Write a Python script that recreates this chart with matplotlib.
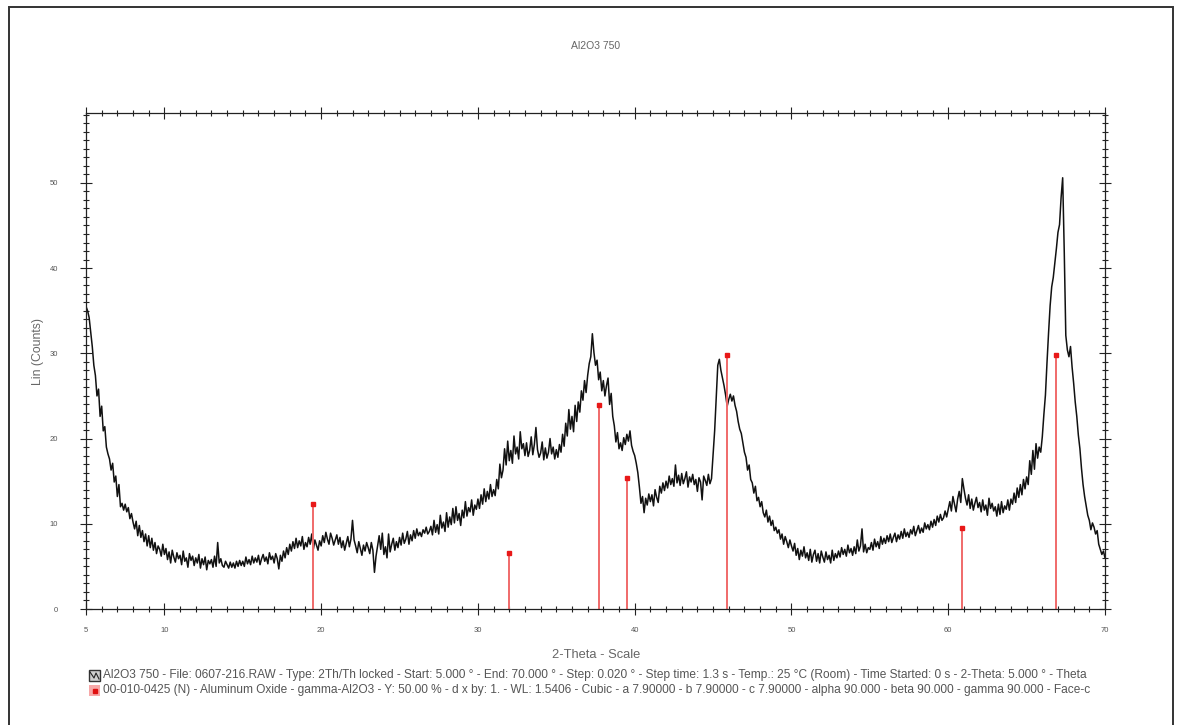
import numpy as np
import matplotlib
matplotlib.use("Agg")
import matplotlib.pyplot as plt
from matplotlib.patches import Rectangle
from matplotlib.lines import Line2D

# ---------------- data ----------------
TITLE = "Al2O3 750"
X_LABEL = "2-Theta - Scale"
Y_LABEL = "Lin (Counts)"
X_TICKS = [5, 10, 20, 30, 40, 50, 60, 70]
Y_TICKS = [0, 10, 20, 30, 40, 50]

THETA_START = 5.0
THETA_STEP = 0.1
counts = [
    35.5, 35.0, 34.2, 32.5, 30.8, 28.6, 27.4, 25.0, 25.8, 22.6,
    23.8, 20.9, 21.4, 19.0, 18.2, 17.6, 16.3, 17.1, 14.9, 15.6,
    13.2, 14.6, 12.0, 12.4, 11.6, 12.3, 11.4, 11.9, 10.6, 11.2,
    10.2, 9.4, 10.3, 8.6, 9.8, 8.4, 9.2, 7.9, 8.8, 7.4,
    8.6, 7.2, 8.3, 6.9, 7.8, 6.5, 7.4, 7.0, 6.2, 7.6,
    6.4, 7.1, 5.8, 6.7, 5.4, 6.9, 6.1, 5.5, 6.6, 5.9,
    6.3, 5.2, 6.8, 5.6, 6.0, 4.9, 6.5, 5.7, 6.2, 5.1,
    6.0, 5.4, 6.4, 4.8, 5.9, 5.2, 6.1, 4.6, 5.7, 5.3,
    5.8, 4.9, 6.2, 5.0, 7.8, 5.4, 5.9, 5.1, 4.9, 5.6,
    5.2, 4.8, 5.5, 4.9, 5.4, 4.8, 5.6, 5.0, 5.7, 5.1,
    5.6, 5.0, 6.1, 5.3, 5.8, 5.2, 6.2, 5.4, 6.0, 5.5,
    6.3, 5.2, 5.9, 6.4, 5.6, 6.1, 5.3, 6.6, 5.8, 6.2,
    5.4, 6.5, 5.9, 4.7, 6.3, 5.6, 6.8, 6.0, 7.2, 6.4,
    7.6, 6.8, 7.9, 7.1, 8.3, 7.2, 8.0, 7.4, 8.5, 7.0,
    7.8, 7.3, 8.4, 7.6, 8.8, 7.0, 8.1, 7.5, 6.9, 8.0,
    7.4, 8.6, 7.8, 9.0, 8.2, 7.6, 8.9, 8.3, 7.5, 8.1,
    8.7, 7.6, 8.4, 7.2, 8.0, 6.9, 7.7, 8.5, 7.3, 8.2,
    10.4, 8.1, 7.4, 6.6, 7.9, 7.1, 6.3, 7.5, 6.8, 7.8,
    7.2, 6.5, 7.8, 6.9, 4.3, 6.2, 7.4, 8.6, 7.0, 8.9,
    6.4, 7.3, 6.0, 8.8, 6.7, 7.6, 8.3, 6.9, 7.9, 7.2,
    8.4, 7.5, 8.9, 7.7, 8.2, 9.1, 7.6, 8.7, 8.0, 9.2,
    8.3, 9.4, 8.6, 9.0, 8.5, 9.3, 8.9, 9.6, 8.8, 9.1,
    9.7, 8.7, 10.4, 9.0, 9.9, 8.8, 11.0, 9.5, 10.2, 9.1,
    11.3, 9.6, 10.8, 9.9, 11.8, 10.1, 12.0, 10.4, 11.2, 9.8,
    11.6, 10.7, 12.6, 10.9, 11.9, 11.4, 12.8, 11.0, 12.2, 11.7,
    12.9, 11.8, 13.4, 12.3, 14.1, 12.6, 13.8, 12.9, 14.6, 13.2,
    14.0, 13.3, 15.2, 14.1, 17.0, 15.4, 16.3, 18.8, 16.9, 19.7,
    17.4, 18.6, 17.1, 20.3, 18.2, 19.0, 17.6, 20.8, 18.8, 19.4,
    18.0, 19.5, 17.9, 18.6, 20.2, 18.1, 19.3, 21.3, 18.7, 17.8,
    18.3, 19.6, 17.5, 18.9, 17.7, 18.4, 20.0, 18.2, 19.0, 17.6,
    18.7, 17.8, 19.3, 18.4, 20.5, 19.1, 21.8, 20.3, 23.4, 21.1,
    22.6, 20.8, 23.9, 22.0, 24.3, 23.1, 25.6, 24.5, 26.8, 25.4,
    27.4, 28.8, 29.6, 32.3, 30.1, 28.6, 29.2, 26.9, 27.8, 25.6,
    26.8, 25.0, 26.2, 27.1, 24.0, 25.3, 22.6, 21.5, 19.6, 20.7,
    18.8, 19.5, 18.6, 20.1, 19.3, 20.5, 19.7, 20.9, 19.2, 18.5,
    18.0, 17.1, 16.0, 14.3, 12.4, 13.2, 11.3, 13.0, 12.2, 13.5,
    12.6, 13.4, 12.1, 14.0, 13.1, 12.5, 14.4, 13.6, 14.8, 13.9,
    15.0, 14.2, 15.6, 14.6, 15.3, 14.4, 16.9, 14.8, 15.7, 14.5,
    15.9, 14.7, 15.3, 16.1, 14.3, 15.5, 14.9, 15.8, 14.6, 15.2,
    13.8, 15.4, 14.9, 12.8, 15.6, 15.1, 14.5, 15.8, 14.7, 15.3,
    18.2, 20.9, 24.8, 28.6, 29.3, 28.0, 27.1, 26.2, 25.1, 23.8,
    24.6, 25.2, 24.4, 25.0, 23.9, 23.2, 22.0, 21.1, 20.6, 19.5,
    18.4, 17.8, 16.3, 16.9, 15.2, 14.8, 13.6, 14.4, 12.7, 13.1,
    12.0, 12.6, 11.3, 10.8, 11.6, 10.2, 10.9, 9.8, 10.4, 9.2,
    9.6, 8.9, 9.3, 8.2, 8.8, 7.6, 8.5, 7.9, 7.2, 8.1,
    7.4, 6.8, 7.7, 6.3, 7.1, 5.8, 6.9, 6.2, 7.3, 6.0,
    6.6, 5.7, 7.0, 5.5, 6.4, 6.9, 5.6, 6.5, 5.4, 6.8,
    6.1, 5.5, 6.7, 5.8, 6.3, 5.4, 6.9, 5.7, 6.5, 6.0,
    6.8, 6.1, 7.2, 6.4, 7.0, 6.2, 7.5, 6.6, 7.1, 6.3,
    7.3, 6.5, 8.1, 6.8, 7.4, 9.4, 6.7, 7.6, 6.6, 7.2,
    7.0, 7.8, 6.9, 8.2, 7.3, 7.9, 7.1, 8.5, 7.6, 8.3,
    7.7, 8.6, 7.9, 8.8, 7.8, 8.4, 8.9, 7.9, 8.7, 8.2,
    9.1, 8.3, 9.4, 8.5, 9.0, 8.4, 9.3, 8.8, 9.7, 8.6,
    9.2, 9.8, 8.9, 9.5, 9.0, 10.1, 9.4, 9.9, 9.3, 10.3,
    9.6, 10.5, 9.8, 10.9, 10.2, 11.1, 10.4, 10.7, 11.5, 10.8,
    11.7, 12.6, 11.5, 13.2, 12.3, 11.4, 12.9, 13.8, 12.5, 15.3,
    14.1, 13.0, 12.2, 13.4, 11.8, 12.9, 11.6, 12.4, 13.1, 11.9,
    12.5, 11.4, 12.8, 11.6, 12.2, 11.0, 13.0, 11.8, 12.4, 11.5,
    12.0, 10.9, 12.3, 11.1, 12.6, 11.3, 12.1, 11.7, 12.8, 11.6,
    12.9, 12.3, 13.6, 12.5, 14.2, 13.1, 14.6, 13.4, 15.2, 14.1,
    15.5, 14.6, 17.4, 15.8, 18.6, 16.4, 19.4, 17.7, 19.0, 18.4,
    20.2, 22.8, 25.1, 28.9, 32.4, 35.6, 37.8, 38.9, 40.6, 42.3,
    44.2, 45.1, 48.3, 50.6, 42.0, 32.1, 30.4, 29.6, 30.8, 28.4,
    26.5, 24.3, 22.6, 20.4, 18.8, 16.5, 14.6, 13.2, 12.1, 11.0,
    10.4, 9.3, 10.1, 9.6, 8.8, 9.2, 7.6, 7.0, 6.4, 6.8,
    6.0,
]

# reference pattern 00-010-0425 gamma-Al2O3 (stick positions / heights)
ref_pos = [19.45, 32.0, 37.7, 39.5, 45.9, 60.9, 66.9]
ref_int = [12.3, 6.6, 23.9, 15.4, 29.8, 9.5, 29.8]

LEGEND_1 = ("Al2O3 750 - File: 0607-216.RAW - Type: 2Th/Th locked - Start: 5.000 \u00b0 - "
            "End: 70.000 \u00b0 - Step: 0.020 \u00b0 - Step time: 1.3 s - Temp.: 25 \u00b0C (Room) - "
            "Time Started: 0 s - 2-Theta: 5.000 \u00b0 - Theta")
LEGEND_2 = ("00-010-0425 (N) - Aluminum Oxide - gamma-Al2O3 - Y: 50.00 % - d x by: 1. - "
            "WL: 1.5406 - Cubic - a 7.90000 - b 7.90000 - c 7.90000 - alpha 90.000 - "
            "beta 90.000 - gamma 90.000 - Face-c")

# ---------------- figure ----------------
plt.rcParams['font.family'] = ['Liberation Sans', 'DejaVu Sans']
W, H = 1181, 725
fig = plt.figure(figsize=(W / 100, H / 100), dpi=100)
fig.patch.set_facecolor('white')

def fx(px):
    return px / W

def fy(py):
    return 1 - py / H

# outer frame
fig.add_artist(Rectangle((fx(9), fy(740)), fx(1173) - fx(9), fy(7) - fy(740),
                         transform=fig.transFigure, fill=False,
                         edgecolor='#333333', lw=1.4))

ax = fig.add_axes([fx(86), fy(609), fx(1105) - fx(86), fy(113) - fy(609)])
theta = THETA_START + THETA_STEP * np.arange(len(counts))
ax.plot(theta, counts, color='#111111', lw=1.1)
ax.vlines(ref_pos, 0, ref_int, color='#f06a6a', lw=1.4)
ax.plot(ref_pos, ref_int, 's', ms=3.2, color='#e81818', mec='#e81818')

ax.set_xlim(5, 70)
ax.set_ylim(0, 58.2)
ax.set_xticks(X_TICKS)
ax.set_xticks(np.arange(5, 71, 1), minor=True)
ax.set_yticks(Y_TICKS)
ax.set_yticks(np.arange(0, 59, 1), minor=True)
ax.tick_params(which='both', direction='inout', top=True, right=True,
               color='#222222', width=0.8)
ax.tick_params(which='major', length=8)
ax.tick_params(which='minor', length=5)
ax.tick_params(axis='x', which='major', labelsize=5.5, labelcolor='#555555', pad=9)
ax.tick_params(axis='y', which='major', labelsize=5.5, labelcolor='#555555', pad=16)
for s in ax.spines.values():
    s.set_color('#222222')
    s.set_linewidth(0.9)

txt_col = '#666666'
fig.text(fx(596), fy(46), TITLE, ha='center', va='center', fontsize=7.5, color=txt_col)
fig.text(fx(38), fy(352), Y_LABEL, ha='center', va='center', rotation=90,
         fontsize=8.8, color=txt_col)
fig.text(fx(596), fy(655), X_LABEL, ha='center', va='center', fontsize=9.3, color=txt_col)

# legend entries
fig.add_artist(Rectangle((fx(89), fy(681)), fx(11), fy(0) - fy(11),
                         transform=fig.transFigure, facecolor='#cfcfcf',
                         edgecolor='#333333', lw=1.0))
fig.add_artist(Line2D([fx(90), fx(94), fx(96), fx(99)], [fy(672), fy(678), fy(673), fy(679)],
                      transform=fig.transFigure, color='#222222', lw=0.8))
fig.add_artist(Rectangle((fx(89), fy(696)), fx(11), fy(0) - fy(11),
                         transform=fig.transFigure, facecolor='#f7a8a8',
                         edgecolor='none'))
fig.add_artist(Line2D([fx(94.5)], [fy(690.5)], transform=fig.transFigure,
                      marker='s', ms=2.5, color='#e01010', lw=0))

t1 = fig.text(fx(103), fy(675), LEGEND_1, ha='left', va='center', fontsize=6.5, color='#555555')
t2 = fig.text(fx(103), fy(690), LEGEND_2, ha='left', va='center', fontsize=6.5, color='#555555')

# fit legend text widths to the reference
fig.canvas.draw()
r = fig.canvas.get_renderer()
for t, target in ((t1, 1090 - 103), (t2, 1086 - 103)):
    w = t.get_window_extent(r).width
    t.set_fontsize(6.5 * target / w)

fig.savefig('out.png', dpi=100, facecolor='white')
